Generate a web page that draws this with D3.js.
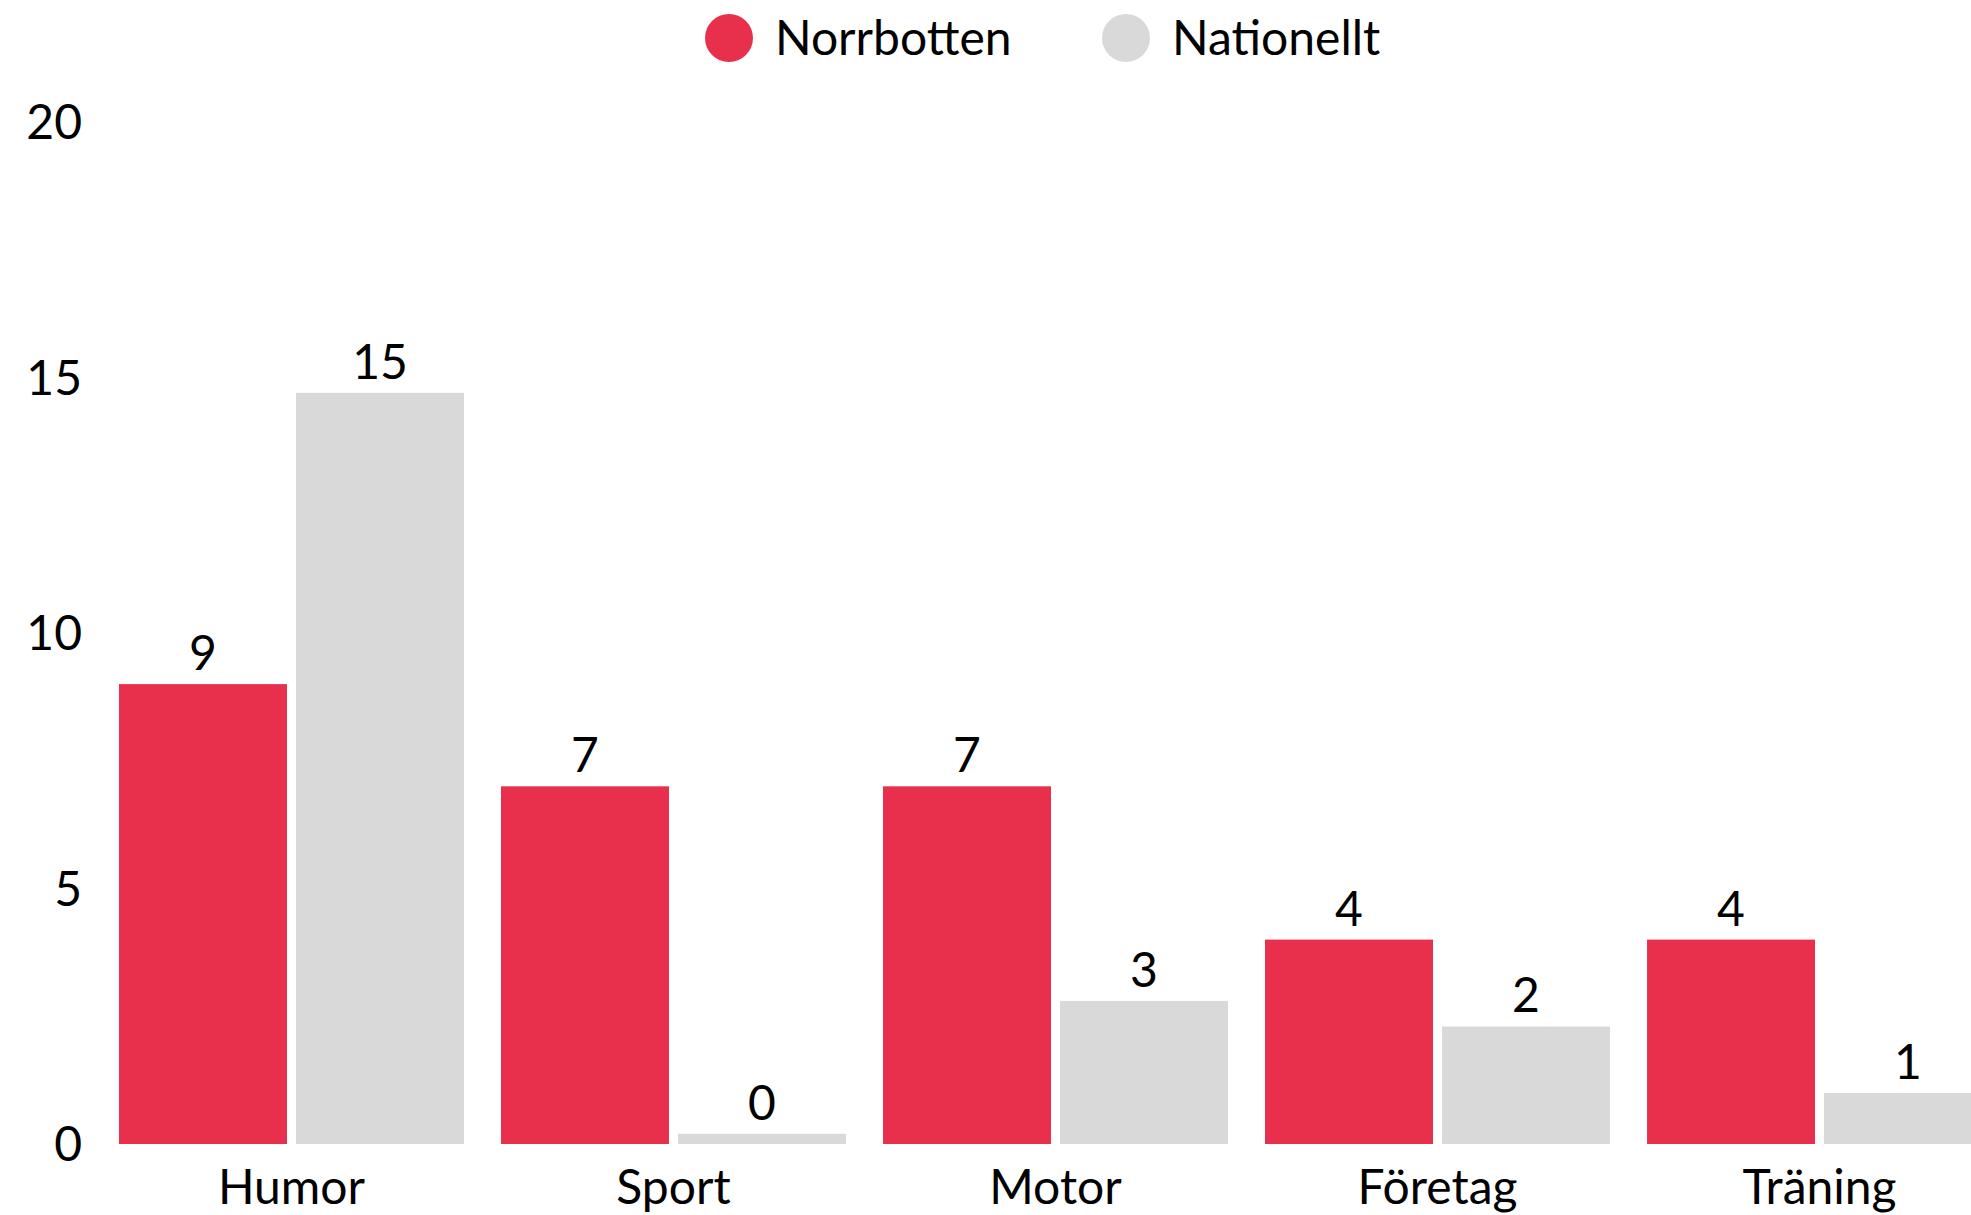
<!DOCTYPE html>
<html lang="sv">
<head>
<meta charset="UTF-8">
<title>Norrbotten vs Nationellt</title>
<script src="https://d3js.org/d3.v7.min.js"></script>
<style>
  body { margin: 0; background: #fff; }
  text { font-family: Lato, "Noto Sans", sans-serif; fill: #000; }
</style>
</head>
<body>
<div id="chart"></div>
<script>
// data
const categories = ["Humor", "Sport", "Motor", "Företag", "Träning"];
const seriesNames = ["Norrbotten", "Nationellt"];
const norrbotten = [9, 7, 7, 4, 4];
const nationellt = [14.7, 0.2, 2.8, 2.3, 1.0];
const yTicks = [0, 5, 10, 15, 20];
const colors = ["#e8304d", "#d9d9d9"];

const W = 1971, H = 1215;
const margin = { top: 122, left: 119, bottom: 71 };
const baseline = H - margin.bottom; // y of zero
const fontSize = 48;

const svg = d3.select("#chart").append("svg")
    .attr("width", W)
    .attr("height", H);

const rows = categories.map((c, i) => ({ cat: c, values: [norrbotten[i], nationellt[i]] }));

// group scale runs past the right edge, like the original
const x0 = d3.scaleBand()
    .domain(categories)
    .range([margin.left, 1992])
    .paddingInner(0.097)
    .paddingOuter(0);

const x1 = d3.scaleBand()
    .domain(seriesNames)
    .range([0, x0.bandwidth()])
    .paddingInner(0.051);

const y = d3.scaleLinear()
    .domain([0, 20])
    .range([baseline, margin.top]);

const color = d3.scaleOrdinal().domain(seriesNames).range(colors);
const fmt = d3.format(".0f");

// y axis labels
svg.append("g")
    .selectAll("text")
    .data(yTicks)
    .join("text")
    .attr("x", 82)
    .attr("y", d => y(d))
    .attr("dy", "0.36em")
    .attr("text-anchor", "end")
    .attr("font-size", fontSize)
    .text(d => d);

// bars
const groups = svg.append("g")
    .selectAll("g")
    .data(rows)
    .join("g")
    .attr("transform", d => `translate(${x0(d.cat)},0)`);

const items = d => d.values.map((v, j) => ({ key: seriesNames[j], value: v }));

groups.selectAll("rect")
    .data(items)
    .join("rect")
    .attr("x", d => x1(d.key))
    .attr("y", d => y(d.value))
    .attr("width", x1.bandwidth())
    .attr("height", d => baseline - y(d.value))
    .attr("fill", d => color(d.key));

// value labels
groups.selectAll("text")
    .data(items)
    .join("text")
    .attr("x", d => x1(d.key) + x1.bandwidth() / 2)
    .attr("y", d => y(d.value) - 14)
    .attr("text-anchor", "middle")
    .attr("font-size", fontSize)
    .text(d => fmt(d.value));

// category labels
svg.append("g")
    .selectAll("text")
    .data(categories)
    .join("text")
    .attr("x", d => x0(d) + x0.bandwidth() / 2)
    .attr("y", 1204)
    .attr("text-anchor", "middle")
    .attr("font-size", fontSize)
    .text(d => d);

// legend
const legendX = [729, 1126];
const legend = svg.append("g")
    .selectAll("g")
    .data(seriesNames)
    .join("g")
    .attr("transform", (d, i) => `translate(${legendX[i]},38)`);

legend.append("circle")
    .attr("r", 24)
    .attr("fill", d => color(d));

legend.append("text")
    .attr("x", 46)
    .attr("dy", "0.36em")
    .attr("font-size", fontSize)
    .text(d => d);
</script>
</body>
</html>
